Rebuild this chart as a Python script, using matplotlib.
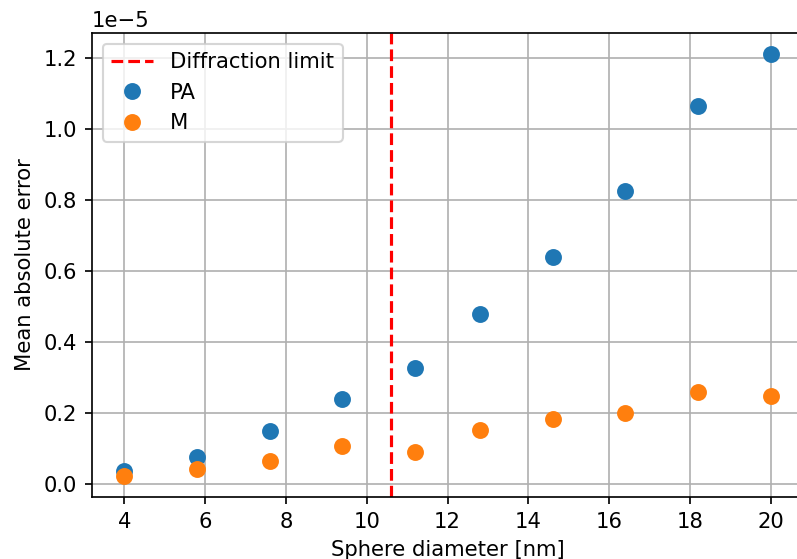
import matplotlib
matplotlib.use('Agg')
import matplotlib.pyplot as plt

# sphere diameters [nm]
diameters = [4.0, 5.8, 7.6, 9.4, 11.2, 12.8, 14.6, 16.4, 18.2, 20.0]
# mean absolute error (x1e-5)
mae_pa = [0.037, 0.076, 0.150, 0.240, 0.328, 0.478, 0.641, 0.825, 1.067, 1.212]
mae_m = [0.023, 0.042, 0.065, 0.108, 0.090, 0.153, 0.184, 0.200, 0.260, 0.248]
diffraction_limit = 10.6

dpi = 152
fig = plt.figure(figsize=(797 / dpi, 559 / dpi), dpi=dpi)
# right edge of the axes falls just outside the picture, as in the original
ax = fig.add_axes([92 / 797, 62 / 559, (803 - 92) / 797, (497 - 33) / 559])
ax.spines['right'].set_visible(False)

ax.axvline(diffraction_limit, color='red', linestyle='--', label='Diffraction limit')
ax.plot(diameters, [v * 1e-5 for v in mae_pa], 'o', markersize=7, label='PA')
ax.plot(diameters, [v * 1e-5 for v in mae_m], 'o', markersize=7, label='M')

ax.set_xticks([4, 6, 8, 10, 12, 14, 16, 18, 20])
ax.set_xlabel('Sphere diameter [nm]')
ax.set_ylabel('Mean absolute error')
ax.grid(True)
ax.legend(loc='upper left')

fig.savefig('out.png', dpi=dpi)
